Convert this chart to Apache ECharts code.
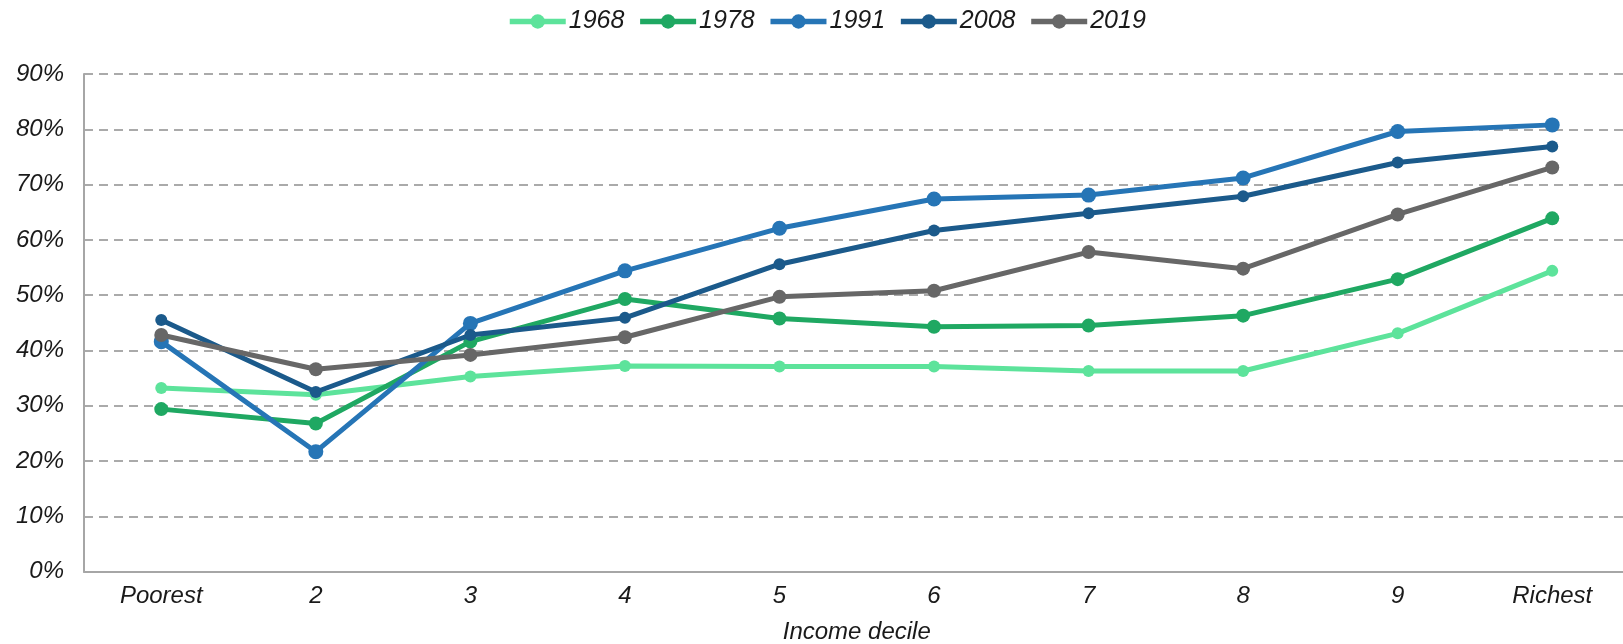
<!DOCTYPE html>
<html>
<head>
<meta charset="utf-8">
<script src="https://cdn.jsdelivr.net/npm/echarts@6/dist/echarts.min.js"></script>
<style>
  html, body { margin: 0; padding: 0; background: #ffffff; }
  #chart { width: 1623px; height: 644px; }
</style>
</head>
<body>
<div id="chart"></div>
<script>
// Income deciles along the x axis
const deciles = ['Poorest', '2', '3', '4', '5', '6', '7', '8', '9', 'Richest'];

// Share (%) per decile for each survey year
const s1968 = [33.2, 32.0, 35.3, 37.2, 37.1, 37.1, 36.3, 36.3, 43.1, 54.4];
const s1978 = [29.4, 26.8, 41.6, 49.3, 45.8, 44.3, 44.5, 46.3, 52.9, 63.9];
const s1991 = [41.6, 21.7, 44.9, 54.4, 62.1, 67.4, 68.1, 71.2, 79.6, 80.8];
const s2008 = [45.5, 32.5, 42.8, 45.9, 55.6, 61.7, 64.8, 67.9, 74.0, 76.9];
const s2019 = [42.8, 36.6, 39.2, 42.4, 49.7, 50.8, 57.8, 54.8, 64.6, 73.1];

const years = ['1968', '1978', '1991', '2008', '2019'];
const colors = ['#5de39b', '#1fa862', '#2675b6', '#1b5a8b', '#676767'];
const symbolSizes = [12, 14, 15, 12, 14];

const FONT = '"Liberation Sans", Arial, sans-serif';
const textBase = { fontFamily: FONT, fontStyle: 'italic', fontSize: 24, color: '#1a1a1a' };

const chart = echarts.init(document.getElementById('chart'), null, { renderer: 'canvas' });

const seriesData = [s1968, s1978, s1991, s2008, s2019];

chart.setOption({
  animation: false,
  color: colors,
  legend: {
    top: 4,
    left: 502,
    itemWidth: 56,
    itemHeight: 18,
    itemGap: 13,
    lineStyle: { width: 5.5 },
    textStyle: Object.assign({}, textBase, { fontSize: 25, padding: [0, 0, 0, -2] }),
    data: years
  },
  grid: {
    left: 84,
    right: -6.5,
    top: 74,
    bottom: 72.3,
    containLabel: false,
    outerBoundsMode: 'none'
  },
  xAxis: {
    type: 'category',
    data: deciles,
    boundaryGap: true,
    name: 'Income decile',
    nameLocation: 'middle',
    nameGap: 49,
    nameTextStyle: textBase,
    axisLine: { show: true, lineStyle: { color: '#a6a6a6', width: 2 } },
    axisTick: { show: false },
    axisLabel: Object.assign({}, textBase, { margin: 13 }),
    splitLine: { show: false }
  },
  yAxis: {
    type: 'value',
    min: 0,
    max: 90,
    interval: 10,
    axisLine: { show: true, lineStyle: { color: '#a6a6a6', width: 2 } },
    axisTick: { show: false },
    axisLabel: Object.assign({}, textBase, { margin: 20, formatter: '{value}%' }),
    splitLine: { show: true, lineStyle: { color: '#8f8f8f', width: 1.5, type: [9, 6] } }
  },
  series: years.map((y, i) => ({
    name: y,
    type: 'line',
    data: seriesData[i],
    symbol: 'circle',
    symbolSize: symbolSizes[i],
    showAllSymbol: true,
    lineStyle: { width: 5, color: colors[i] },
    itemStyle: { color: colors[i] },
    z: 2 + i
  }))
});
</script>
</body>
</html>
